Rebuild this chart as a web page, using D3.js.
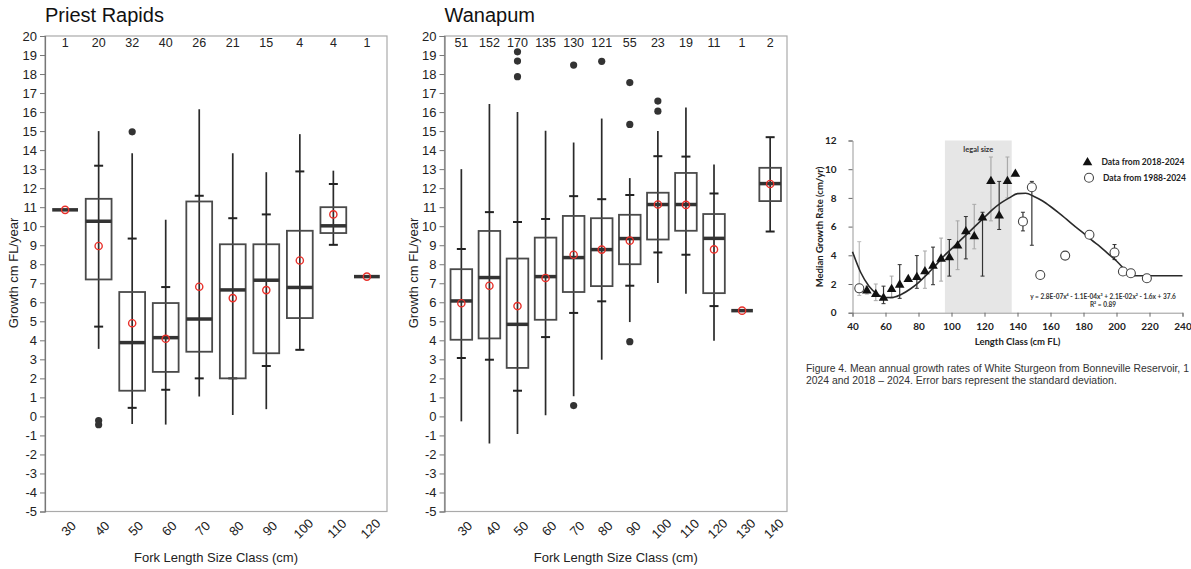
<!DOCTYPE html>
<html><head><meta charset="utf-8">
<script src="https://cdn.jsdelivr.net/npm/d3@7"></script>
<style>body{margin:0;background:#fff}svg{display:block;overflow:hidden}</style>
</head><body><svg id="c" width="1191" height="569"></svg>
<script>
// ---------- Priest Rapids ----------
const prClasses = [30,40,50,60,70,80,90,100,110,120];
const prN       = [1,20,32,40,26,21,15,4,4,1];
const prMin     = [null,3.55,-0.4,-0.43,1.05,0.08,0.38,3.5,9.02,null];
const prP10     = [null,4.72,0.45,1.4,2.0,2.0,2.65,3.5,9.02,null];
const prQ1      = [10.86,7.2,1.35,2.34,3.4,2.0,3.32,5.17,9.64,7.35];
const prMed     = [10.86,10.26,3.88,4.14,5.12,6.65,7.16,6.78,10.02,7.35];
const prQ3      = [10.86,11.44,6.54,5.96,11.3,9.05,9.05,9.76,11.0,7.35];
const prP90     = [null,13.18,9.35,6.8,11.6,10.42,10.62,12.88,12.22,null];
const prMax     = [null,15.0,13.84,10.34,16.15,13.84,12.84,14.84,12.92,null];
const prMean    = [10.86,8.96,4.9,4.08,6.82,6.22,6.64,8.2,10.62,7.35];
const prOut     = [[],[-0.22,-0.44],[14.96],[],[],[],[],[],[],[]];

// ---------- Wanapum ----------
const waClasses = [30,40,50,60,70,80,90,100,110,120,130,140];
const waN       = [51,152,170,135,130,121,55,23,19,11,1,2];
const waMin     = [-0.26,-1.43,-0.92,0.06,1.06,2.98,4.96,7.01,6.45,3.98,null,9.72];
const waP10     = [3.07,2.98,1.35,4.17,5.44,6.05,6.87,8.62,8.5,5.8,null,9.72];
const waQ1      = [4.03,4.1,2.55,5.08,6.54,6.85,8.0,9.3,9.76,6.48,5.56,11.32];
const waMed     = [6.07,7.3,4.84,7.35,8.35,8.77,9.35,11.14,11.14,9.36,5.56,12.24];
const waQ3      = [7.74,9.75,8.3,9.4,10.54,10.42,10.6,11.76,12.8,10.64,5.56,13.07];
const waP90     = [8.8,10.74,10.22,10.38,11.58,11.42,11.64,13.68,13.66,11.72,null,14.68];
const waMax     = [13.0,16.42,16.0,15.02,14.4,15.66,12.53,15.0,16.24,13.25,null,14.68];
const waMean    = [5.95,6.87,5.8,7.28,8.5,8.77,9.24,11.14,11.12,8.78,5.56,12.22];
const waOut     = [[],[],[17.86,18.68,19.17],[],[18.47,0.57],[18.67],[15.35,17.55,3.93],[16.05,16.58],[],[],[],[]];

// ---------- Bonneville growth curve panel ----------
const triX  = [48.7,54.1,58.8,63.7,68.6,73.8,79.0,83.9,88.8,93.7,98.7,103.7,108.7,113.8,118.8,123.9,128.9,133.9,138.7];
const triY  = [1.54,1.28,1.02,1.63,1.94,2.33,2.47,2.87,3.26,3.75,3.85,4.66,5.66,5.31,6.62,9.16,6.76,9.16,9.67];
const triLo = [1.3,0.84,0.63,1.0,1.0,null,1.7,1.7,1.95,2.2,2.55,3.0,3.75,4.45,2.55,6.4,5.8,8.0,null];
const triHi = [1.85,2.0,1.85,2.55,3.35,null,3.98,4.3,4.57,5.2,5.1,6.4,6.7,7.55,7.0,10.85,9.15,10.85,null];
const cirX  = [44.1,143.3,148.7,153.8,168.9,183.6,198.8,203.9,208.7,218.4];
const cirY  = [1.7,6.36,8.74,2.63,3.98,5.43,4.19,2.87,2.75,2.4];
const cirLo = [1.2,5.7,4.7,null,null,null,3.7,null,null,null];
const cirHi = [4.95,7.0,9.15,null,null,null,4.75,null,null,null];
const fitX  = [40,45,50,55,60,65,70,75,80,85,90,95,100,105,110,115,120,125,130,135,140,145,150,155,160,165,170,175,180,185,190,195,200,205,208,210,225,240];
const fitY  = [4.25,2.8,1.85,1.3,1.05,1.08,1.3,1.65,2.1,2.65,3.25,3.9,4.45,5.0,5.55,6.1,6.65,7.2,7.65,8.0,8.3,8.32,8.1,7.8,7.4,6.95,6.48,6.0,5.55,5.05,4.6,4.1,3.6,3.0,2.65,2.58,2.58,2.58];
const legalSize = [96,136.5];
const xTicksR = [40,60,80,100,120,140,160,180,200,220,240];
const yTicksR = [0,2,4,6,8,10,12];

const svg = d3.select("#c");
svg.append("rect").attr("width",1191).attr("height",569).attr("fill","#fff");
const FONT = "Liberation Sans, Arial, sans-serif";

function boxPanel(o){
  const g = svg.append("g");
  const x = d3.scalePoint().domain(o.classes).range([o.x0,o.x1]).padding(0.6);
  const y = d3.scaleLinear().domain([-5,20]).range([511.5,36]);
  const bw = x.step()*0.77;
  g.append("rect").attr("x",o.x0).attr("y",y(20)).attr("width",o.x1-o.x0).attr("height",y(-5)-y(20))
    .attr("fill","none").attr("stroke","#aaa").attr("stroke-width",1.2);
  const ax = g.append("g").attr("transform",`translate(${o.x0},0)`)
    .call(d3.axisLeft(y).tickValues(d3.range(-5,21)).tickSize(5).tickPadding(3).tickFormat(d=>String(d)));
  ax.select(".domain").attr("stroke","#777").attr("stroke-width",1.2);
  ax.selectAll(".tick line").attr("stroke","#777");
  ax.selectAll("text").attr("font-size",13).attr("font-family",FONT).attr("fill","#222");
  const bx = g.append("g").attr("transform",`translate(0,${y(-5)})`)
    .call(d3.axisBottom(x).tickSize(0).tickFormat(d=>String(d)));
  bx.select(".domain").remove();
  bx.selectAll("text").attr("font-size",13).attr("font-family",FONT).attr("fill","#222")
    .attr("x",0).attr("y",0).attr("dy","0.35em").attr("text-anchor","middle")
    .attr("transform","translate(3,17) rotate(-45)");
  g.selectAll(".cnt").data(o.classes).join("text")
    .attr("x",d=>x(d)).attr("y",43).attr("dy","0.35em").attr("text-anchor","middle")
    .attr("font-size",12.5).attr("font-family",FONT).attr("fill","#222")
    .text((d,i)=>o.n[i]);
  o.classes.forEach((c,i)=>{
    const cx = x(c);
    if(o.min[i]!=null){
      g.append("line").attr("x1",cx).attr("x2",cx).attr("y1",y(o.min[i])).attr("y2",y(o.max[i]))
        .attr("stroke","#2a2a2a").attr("stroke-width",1.7);
      [o.p10[i],o.p90[i]].forEach(v=>{
        g.append("line").attr("x1",cx-4.5).attr("x2",cx+4.5).attr("y1",y(v)).attr("y2",y(v))
          .attr("stroke","#222").attr("stroke-width",2);
      });
    }
    if(o.q3[i]!==o.q1[i]){
      g.append("rect").attr("x",cx-bw/2).attr("y",y(o.q3[i])).attr("width",bw).attr("height",y(o.q1[i])-y(o.q3[i]))
        .attr("fill","none").attr("stroke","#4a4a4a").attr("stroke-width",1.8);
    }
    g.append("line").attr("x1",cx-bw/2).attr("x2",cx+bw/2).attr("y1",y(o.med[i])).attr("y2",y(o.med[i]))
      .attr("stroke","#333").attr("stroke-width",3.5);
    o.out[i].forEach(v=>{
      g.append("circle").attr("cx",cx).attr("cy",y(v)).attr("r",3.6).attr("fill","#333");
    });
    g.append("circle").attr("cx",cx).attr("cy",y(o.mean[i])).attr("r",3.6)
      .attr("fill","none").attr("stroke","#e8302a").attr("stroke-width",1.4);
  });
  g.append("text").attr("x",o.x0).attr("y",22).attr("font-size",20).attr("font-family",FONT).attr("fill","#111").text(o.title);
  g.append("text").attr("transform",`translate(${o.ylabX},273) rotate(-90)`).attr("text-anchor","middle")
    .attr("dy","0.35em").attr("font-size",13).attr("font-family",FONT).attr("fill","#222").text("Growth cm FL/year");
  g.append("text").attr("x",(o.x0+o.x1)/2).attr("y",557).attr("dy","0.35em").attr("text-anchor","middle")
    .attr("font-size",13).attr("font-family",FONT).attr("fill","#222").text("Fork Length Size Class (cm)");
}

boxPanel({classes:prClasses,n:prN,min:prMin,p10:prP10,q1:prQ1,med:prMed,q3:prQ3,p90:prP90,max:prMax,mean:prMean,out:prOut,
  x0:45,x1:387,title:"Priest Rapids",ylabX:13.5});
boxPanel({classes:waClasses,n:waN,min:waMin,p10:waP10,q1:waQ1,med:waMed,q3:waQ3,p90:waP90,max:waMax,mean:waMean,out:waOut,
  x0:444.5,x1:787,title:"Wanapum",ylabX:413.5});

// ---------- Right panel ----------
(function(){
  const g = svg.append("g");
  const BF = "Lato, 'Open Sans', sans-serif";
  const x = d3.scaleLinear().domain([40,240]).range([852.5,1182.5]);
  const y = d3.scaleLinear().domain([0,12]).range([312.7,140.5]);
  g.append("rect").attr("x",x(legalSize[0])).attr("y",y(12)).attr("width",x(legalSize[1])-x(legalSize[0]))
    .attr("height",y(0)-y(12)).attr("fill","#e6e6e6");
  g.append("text").attr("x",(x(legalSize[0])+x(legalSize[1]))/2).attr("y",149).attr("dy","0.35em")
    .attr("text-anchor","middle").attr("font-size",7.5).attr("font-weight","bold").attr("font-family",BF).attr("fill","#333").text("legal size");
  const ya = g.append("g").attr("transform",`translate(${x(40)},0)`)
    .call(d3.axisLeft(y).tickValues(yTicksR).tickSize(4).tickPadding(12).tickFormat(d=>String(d)));
  ya.select(".domain").attr("stroke","#999");
  ya.selectAll(".tick line").attr("stroke","#666");
  ya.selectAll("text").attr("font-size",10).attr("font-weight","bold").attr("font-family",BF).attr("fill","#222");
  const xa = g.append("g").attr("transform",`translate(0,${y(0)})`)
    .call(d3.axisBottom(x).tickValues(xTicksR).tickSize(4).tickPadding(6).tickFormat(d=>String(d)));
  xa.select(".domain").attr("stroke","#999");
  xa.selectAll(".tick line").attr("stroke","#666");
  xa.selectAll("text").attr("font-size",10).attr("font-weight","bold").attr("font-family",BF).attr("fill","#222");
  g.append("text").attr("x",(x(40)+x(240))/2).attr("y",341.5).attr("dy","0.35em").attr("text-anchor","middle")
    .attr("font-size",9.5).attr("font-weight","bold").attr("font-family",BF).attr("fill","#222").text("Length Class (cm FL)");
  g.append("text").attr("transform","translate(820,227) rotate(-90)").attr("text-anchor","middle").attr("dy","0.35em")
    .attr("font-size",9.5).attr("font-weight","bold").attr("font-family",BF).attr("fill","#222").text("Median Growth Rate (cm/yr)");

  function errBar(xv,lo,hi,col){
    if(lo==null) return;
    g.append("line").attr("x1",x(xv)).attr("x2",x(xv)).attr("y1",y(lo)).attr("y2",y(hi)).attr("stroke",col).attr("stroke-width",1.2);
    [lo,hi].forEach(v=>g.append("line").attr("x1",x(xv)-2).attr("x2",x(xv)+2).attr("y1",y(v)).attr("y2",y(v)).attr("stroke",col).attr("stroke-width",1));
  }
  triX.forEach((v,i)=>errBar(v,triLo[i],triHi[i], i%2===0 && i>0 ? "#333" : "#aaa"));
  cirX.forEach((v,i)=>errBar(v,cirLo[i],cirHi[i], i===0 ? "#bbb" : "#333"));

  const line = d3.line().x((d,i)=>x(fitX[i])).y(d=>y(d)).curve(d3.curveMonotoneX);
  g.append("path").attr("d",line(fitY)).attr("fill","none").attr("stroke","#2a2a2a").attr("stroke-width",1.6);

  const tri = d3.symbol().type(d3.symbolTriangle).size(40);
  triX.forEach((v,i)=>{
    g.append("path").attr("d",tri()).attr("transform",`translate(${x(v)},${y(triY[i])})`).attr("fill","#111");
  });
  cirX.forEach((v,i)=>{
    g.append("circle").attr("cx",x(v)).attr("cy",y(cirY[i])).attr("r",4.5).attr("fill","#fff").attr("stroke","#444").attr("stroke-width",1.1);
  });
  g.append("path").attr("d",tri()).attr("transform","translate(1087.5,162.5)").attr("fill","#111");
  g.append("text").attr("x",1101.5).attr("y",162.5).attr("dy","0.35em").attr("font-size",8.5).attr("font-weight","bold")
    .attr("font-family",BF).attr("fill","#222").text("Data from 2018-2024");
  g.append("circle").attr("cx",1089).attr("cy",177.7).attr("r",4.5).attr("fill","#fff").attr("stroke","#444").attr("stroke-width",1.1);
  g.append("text").attr("x",1103).attr("y",177.7).attr("dy","0.35em").attr("font-size",8.5).attr("font-weight","bold")
    .attr("font-family",BF).attr("fill","#222").text("Data from 1988-2024");
  g.append("text").attr("x",1103).attr("y",296.7).attr("dy","0.35em").attr("text-anchor","middle")
    .attr("font-size",6.5).attr("font-weight","bold").attr("font-family",BF).attr("fill","#333")
    .text("y = 2.8E-07x⁴ - 1.1E-04x³ + 2.1E-02x² - 1.6x + 37.6");
  g.append("text").attr("x",1103).attr("y",305).attr("dy","0.35em").attr("text-anchor","middle")
    .attr("font-size",6.5).attr("font-weight","bold").attr("font-family",BF).attr("fill","#333").text("R² = 0.89");
  g.append("text").attr("x",806).attr("y",368).attr("dy","0.35em").attr("font-size",10.4).attr("font-family",FONT)
    .attr("fill","#333").text("Figure 4. Mean annual growth rates of White Sturgeon from Bonneville Reservoir, 1");
  g.append("text").attr("x",806).attr("y",380).attr("dy","0.35em").attr("font-size",10.4).attr("font-family",FONT)
    .attr("fill","#333").text("2024 and 2018 – 2024. Error bars represent the standard deviation.");
})();
</script></body></html>
